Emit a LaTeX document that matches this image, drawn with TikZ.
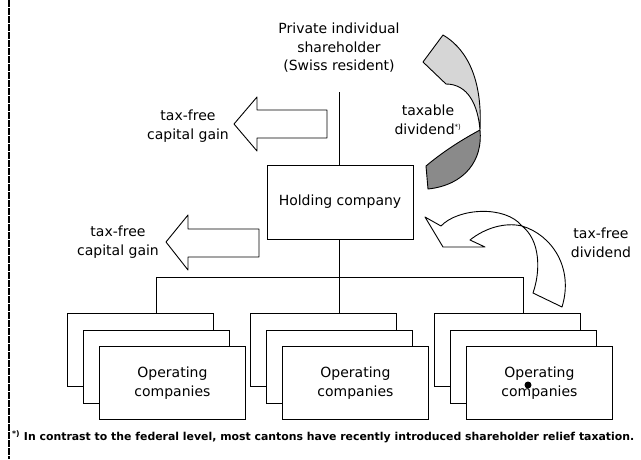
\documentclass[tikz,border=0pt]{standalone}
\usepackage{fontspec}
\setmainfont{DejaVu Sans}
\definecolor{lightpart}{HTML}{D6D6D6}
\definecolor{darkpart}{HTML}{8A8A8A}
\begin{document}
\begin{tikzpicture}[x=1pt,y=-1pt,
  lbl/.style={font=\fontsize{14}{18.5}\selectfont, align=center, inner sep=0pt},
  cbox/.style={draw, fill=white, line width=0.9pt, minimum width=146pt, minimum height=73pt, anchor=north west, inner sep=0pt, font=\fontsize{14}{19}\selectfont, align=center},
  conn/.style={draw, line width=0.9pt},
  shp/.style={draw, line width=0.9pt, line join=round}
]
\useasboundingbox (0,0) rectangle (641,459);

% left border
\draw[line width=1.1pt, dash pattern=on 7pt off 1pt] (9,0) -- (9,459);

% shareholder
\node[lbl] (sh) at (339,48) {Private individual\\shareholder\\(Swiss resident)};
\coordinate (shline) at (339,92);

% holding company
\node[cbox, anchor=center, minimum width=146pt, minimum height=74pt] (hold) at (340,202) {Holding company};
\draw[conn] (shline) -- (hold.north -| shline);

% operating company groups
\node[cbox] (g1b) at (67,313) {};
\node[cbox] (g1m) at (83,330) {};
\node[cbox] (g1f) at (99,346) {Operating\\companies};
\node[cbox] (g2b) at (250,313) {};
\node[cbox] (g2m) at (266,330) {};
\node[cbox] (g2f) at (282,346) {Operating\\companies};
\node[cbox] (g3b) at (434,313) {};
\node[cbox] (g3m) at (450,330) {};
\node[cbox] (g3f) at (466,346) {Operating\\companies};

\coordinate (bus) at (339,277);
\draw[conn] (hold.south -| shline) -- (g2b.north -| shline);
\draw[conn] (g1b.north -| g1m.north) -- (g1m.north |- bus) -- (g3m.north |- bus) -- (g3b.north -| g3m.north);

% blot
\fill (528,385) circle (3.5pt);

% capital gain arrows
\draw[shp, fill=white] (234,124) -- (257,97) -- (257,110) -- (327,110) -- (327,138) -- (257,138) -- (257,151) -- cycle;
\node[lbl] (cg1) at (188,126) {tax-free\\capital gain};
\draw[shp, fill=white] (166,242) -- (188,215) -- (188,229) -- (259,229) -- (259,257) -- (188,257) -- (188,270) -- cycle;
\node[lbl] (cg2) at (118,242) {tax-free\\capital gain};

% taxable dividend arrow
\draw[shp, fill=lightpart] (443,35) .. controls (462,46) and (483,72) .. (480,130)
  .. controls (478,105) and (468,84) .. (446,84) -- (423,62) -- cycle;
\draw[shp, fill=darkpart] (480,130) .. controls (483,160) and (465,185) .. (428,189)
  -- (426,166) .. controls (445,150) and (465,138) .. (480,130);
\node[lbl] (tax) at (428,120) {taxable\\dividend\textsuperscript{\fontsize{7}{8}\selectfont *)}};

% tax-free dividend arrow
\draw[shp, fill=white] (425,217) -- (441,226) .. controls (458,208) and (505,205) .. (522,226)
  .. controls (505,222) and (485,228) .. (470,240) -- (485,247) -- (443,247) -- cycle;
\draw[shp, fill=white] (522,226) .. controls (552,235) and (574,268) .. (562,307)
  -- (533,293) .. controls (541,270) and (540,240) .. (522,226);
\node[lbl] (tfd) at (601,243) {tax-free\\dividend};

% footnote
\node[anchor=west, inner sep=0pt, font=\fontsize{10.9}{13}\bfseries\selectfont] (fn) at (12,437)
  {\textsuperscript{*)} In contrast to the federal level, most cantons have recently introduced shareholder relief taxation.};
\end{tikzpicture}
\end{document}
